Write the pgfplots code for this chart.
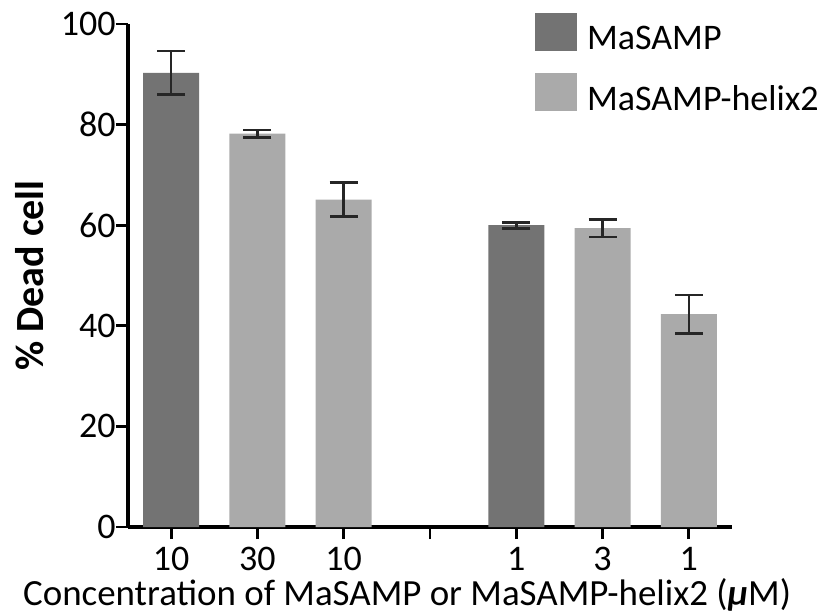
\documentclass[border=0pt]{standalone}
\usepackage{pgfplots}
\pgfplotsset{compat=1.18}
\usepackage{fontspec}
\setmainfont{Carlito}
\definecolor{darkbar}{RGB}{115,115,115}
\definecolor{lightbar}{RGB}{170,170,170}
\begin{document}
\begin{tikzpicture}
\begin{axis}[
  scale only axis,
  width=453pt, height=377.25pt,
  xmin=-0.5, xmax=6.5, ymin=0, ymax=100,
  axis x line*=bottom, axis y line*=left,
  axis line style={line width=2.4pt, black},
  xtick={0,1,2,3,4,5,6},
  xticklabels={10,30,10,,1,3,1},
  ytick={0,20,40,60,80,100},
  tick align=outside,
  major tick length=9pt,
  tick style={line width=2.2pt, black},
  tick label style={font=\fontsize{27}{31}\selectfont},
  /pgf/number format/assume math mode=true,
  yticklabel style={inner sep=0pt, xshift=0pt},
  xticklabel style={inner sep=0pt, yshift=-6pt},
  xlabel={Concentration of MaSAMP or MaSAMP-helix2 ({\bfseries\itshape μ}M)},
  xlabel style={font=\fontsize{27.7}{32}\selectfont, at={(axis description cs:0.462,0)}, anchor=base, yshift=-58.5pt},
  ylabel={\% Dead cell},
  ylabel style={font=\bfseries\fontsize{30}{36}\selectfont, at={(axis description cs:-0.1407,0.5)}, anchor=base},
  legend style={at={(axis description cs:0.674,1.022)}, anchor=north west, draw=none, fill=none,
    inner sep=0pt, outer sep=0pt, font=\fontsize{27}{31}\selectfont,
    nodes={inner sep=0pt}, row sep=15.75pt, column sep=7.5pt},
  legend cell align=left,
  clip=false,
]
\addplot[ybar, bar width=42pt, bar shift=0pt, fill=darkbar, draw=none,
  legend image code/.code={\fill[darkbar] (0pt,-9pt) rectangle (31.5pt,19.5pt);},
  error bars/.cd, y dir=both, y explicit,
  error bar style={line width=2pt, black!85},
  error mark options={rotate=90, mark size=10.5pt, line width=2pt, black!85}]
  coordinates {(0,90.3) +- (0,4.3) (4,60.0) +- (0,0.6)};
\addlegendentry{MaSAMP}
\addplot[ybar, bar width=42pt, bar shift=0pt, fill=lightbar, draw=none,
  legend image code/.code={\fill[lightbar] (0pt,-9pt) rectangle (31.5pt,19.5pt);},
  error bars/.cd, y dir=both, y explicit,
  error bar style={line width=2pt, black!85},
  error mark options={rotate=90, mark size=10.5pt, line width=2pt, black!85}]
  coordinates {(1,78.2) +- (0,0.7) (2,65.1) +- (0,3.4) (5,59.4) +- (0,1.75) (6,42.3) +- (0,3.8)};
\addlegendentry{MaSAMP-helix2}
\end{axis}
\pgfresetboundingbox
\path (-96pt,-66pt) rectangle (519pt,395.25pt);
\end{tikzpicture}
\end{document}
